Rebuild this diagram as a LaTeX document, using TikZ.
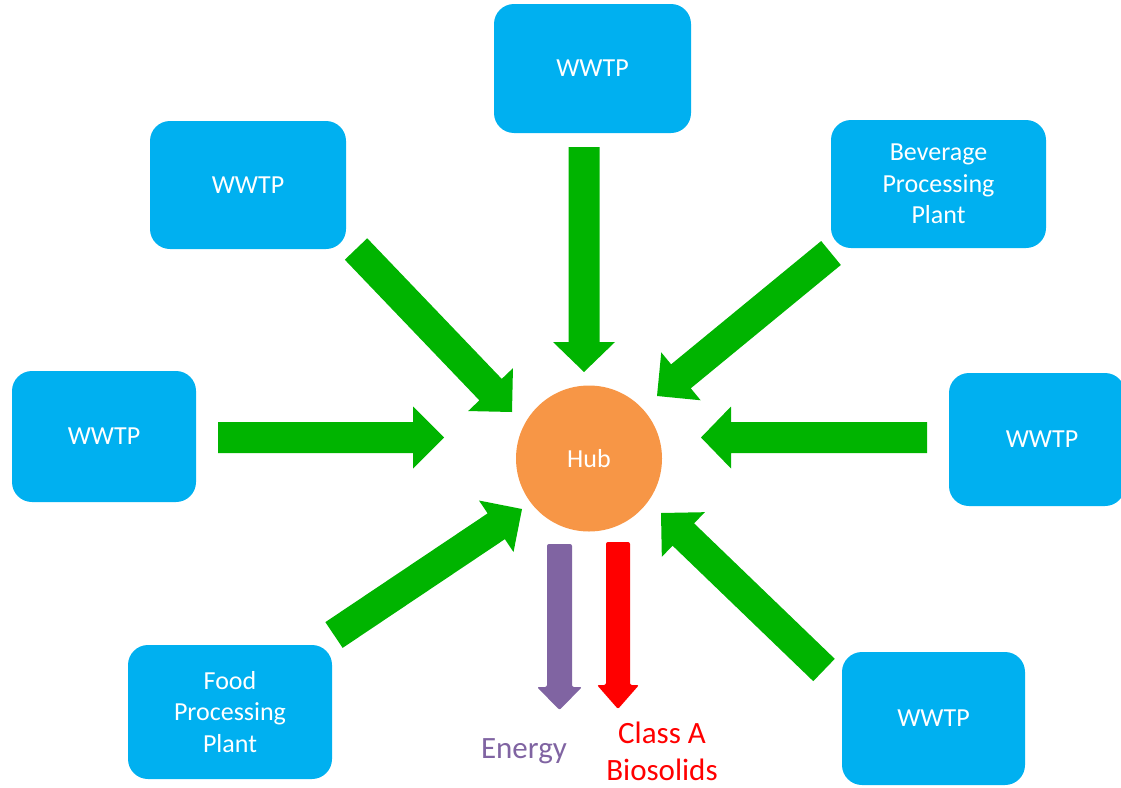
\documentclass[tikz,border=0pt]{standalone}
\usepackage{fontspec}
\setmainfont{Carlito}
\usetikzlibrary{calc}
\definecolor{boxblue}{RGB}{0,176,240}
\definecolor{flowgreen}{RGB}{0,180,0}
\definecolor{huborange}{RGB}{247,150,70}
\definecolor{energypurple}{RGB}{128,100,162}
\definecolor{biored}{RGB}{255,0,0}
% #1 style, #2 tail, #3 tip, #4 shaft half width, #5 head half width, #6 head length
\newcommand\blockarrow[6]{%
  \coordinate (ba-h) at ($(#3)!#6!(#2)$);
  \fill[#1] ($(#2)!#4!90:(#3)$) -- ($(ba-h)!#4!90:(#3)$) -- ($(ba-h)!#5!90:(#3)$)
    -- (#3) -- ($(ba-h)!#5!-90:(#3)$) -- ($(ba-h)!#4!-90:(#3)$)
    -- ($(#2)!#4!-90:(#3)$) -- cycle;}
\tikzset{
  site/.style={fill=boxblue, rounded corners=20pt, inner sep=0pt, align=center,
    text=white, font=\fontsize{26}{31.5}\selectfont},
  hubnode/.style={circle, fill=huborange, minimum size=146pt, inner sep=0pt,
    text=white, font=\fontsize{26}{31.5}\selectfont},
  flow/.style={flowgreen},
  outlabel/.style={align=center, inner sep=0pt, font=\fontsize{31}{37}\selectfont},
}
\begin{document}
\begin{tikzpicture}[x=1pt, y=-1pt]
\useasboundingbox (0,0) rectangle (1121,787);
% sites
\node[site, minimum width=197pt, minimum height=129pt] (top) at (592.5,68.5) {WWTP};
\node[site, minimum width=196pt, minimum height=128pt] (ul) at (248,185) {WWTP};
\node[site, minimum width=215pt, minimum height=128pt] (bev) at (938.5,184) {Beverage\\Processing\\Plant};
\node[site, minimum width=184pt, minimum height=131pt] (left) at (104,436.5) {WWTP};
\node[site, minimum width=176pt, minimum height=133pt] (right) at (1037,439.5) {};
\node[text=white, font=\fontsize{26}{31.5}\selectfont] (rightlbl) at (1042,439.5) {WWTP};
\node[site, minimum width=204pt, minimum height=134pt] (food) at (230,712) {Food\\Processing\\Plant};
\node[site, minimum width=183pt, minimum height=133pt] (br) at (933.5,718.5) {WWTP};
% hub
\node[hubnode] (hub) at (589,458.5) {Hub};
% green flow arrows
\coordinate (g1s) at (584,147);   \coordinate (g1t) at (584,372);
\coordinate (g2s) at (356,249);   \coordinate (g2t) at (512,412);
\coordinate (g3s) at (831,253);   \coordinate (g3t) at (657,396);
\coordinate (g4s) at (218,437.5); \coordinate (g4t) at (444,437.5);
\coordinate (g5s) at (927,437.5); \coordinate (g5t) at (701,437.5);
\coordinate (g6s) at (334,635);   \coordinate (g6t) at (522,509);
\coordinate (g7s) at (824,670);   \coordinate (g7t) at (661,513);
\blockarrow{flow}{g1s}{g1t}{15.5pt}{31pt}{30pt}
\blockarrow{flow}{g2s}{g2t}{15.5pt}{31pt}{31pt}
\blockarrow{flow}{g3s}{g3t}{15.5pt}{31pt}{31pt}
\blockarrow{flow}{g4s}{g4t}{15.5pt}{31pt}{31pt}
\blockarrow{flow}{g5s}{g5t}{15.5pt}{31pt}{30pt}
\blockarrow{flow}{g6s}{g6t}{15.5pt}{31pt}{31pt}
\blockarrow{flow}{g7s}{g7t}{15.5pt}{31pt}{31pt}
% outputs
\coordinate (es) at (559.5,544); \coordinate (et) at (559.5,710);
\coordinate (rs) at (618,542);   \coordinate (rt) at (618,709);
\blockarrow{energypurple, rounded corners=2pt}{es}{et}{12.5pt}{22.5pt}{23pt}
\blockarrow{biored, rounded corners=2pt}{rs}{rt}{12pt}{21pt}{24pt}
\node[outlabel, text=energypurple] (energy) at (524,751) {Energy};
\node[outlabel, text=biored] (bios) at (662,751) {Class A\\Biosolids};
\end{tikzpicture}
\end{document}
